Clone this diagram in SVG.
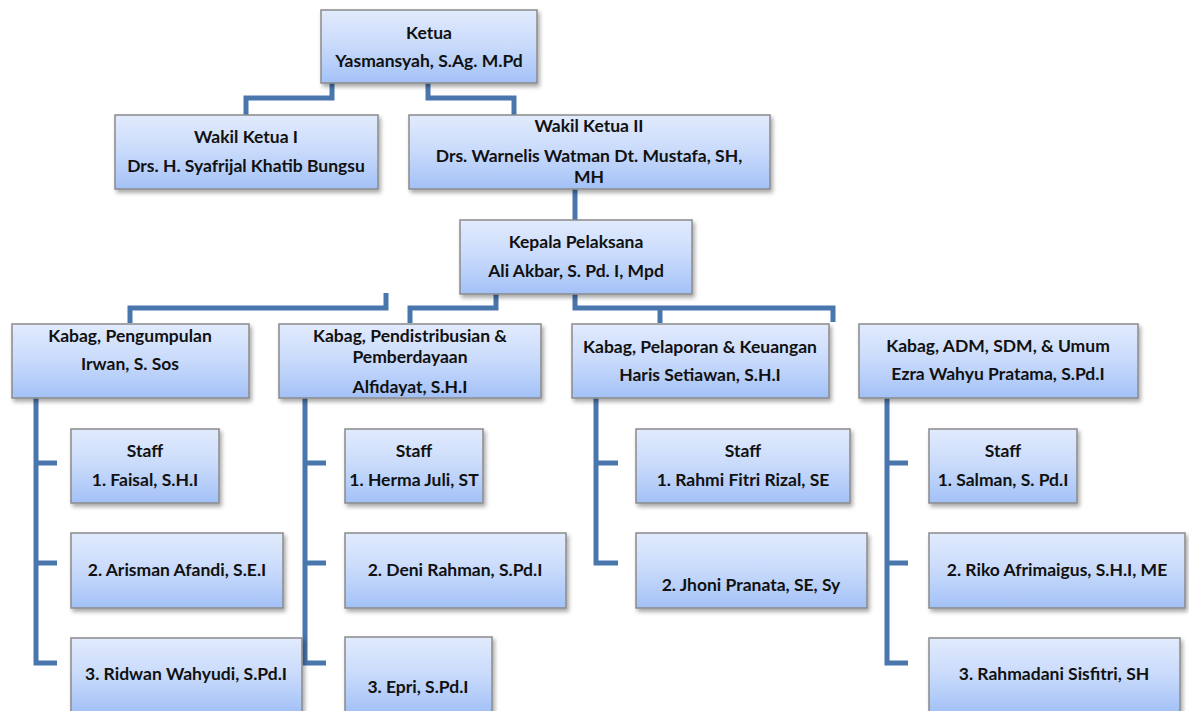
<svg xmlns="http://www.w3.org/2000/svg" width="1189" height="711" viewBox="0 0 1189 711">
<defs>
<linearGradient id="g" x1="0" y1="0" x2="0" y2="1">
<stop offset="0" stop-color="#e2ebfd"/>
<stop offset="0.5" stop-color="#c8dafb"/>
<stop offset="1" stop-color="#a3c1f7"/>
</linearGradient>
<filter id="sh" x="-10%" y="-10%" width="125%" height="140%">
<feDropShadow dx="2" dy="3" stdDeviation="2" flood-color="#000" flood-opacity="0.35"/>
</filter>
</defs>
<style>
.b{fill:url(#g);stroke:#8a8a8a;stroke-width:1.5;filter:url(#sh)}
.t{font-family:Lato,"Liberation Sans",sans-serif;font-weight:bold;font-size:17.5px;fill:#111;text-anchor:middle}
.c{fill:none;stroke:#4876ad;stroke-width:5;stroke-linejoin:miter;stroke-linecap:butt}
</style>
<rect width="1189" height="711" fill="#fff"/>
<g id="connectors" class="c">
<path d="M332,83 V98 H246 V115"/>
<path d="M428,83 V98 H514 V115"/>
<path d="M575,189 V220"/>
<path d="M496,294 V308 H410 V323"/>
<path d="M386,293 V308 H130 V323"/>
<path d="M575,294 V308 H833 V322"/>
<path d="M660,308 V323"/>
<path d="M36,398 V663 H57 M36,463 H57 M36,563 H57"/>
<path d="M305,398 V663 H326 M305,463 H326 M305,563 H326"/>
<path d="M596,398 V563 H618 M596,463 H618"/>
<path d="M887,398 V663 H908 M887,463 H908 M887,563 H908"/>
</g>
<g id="ketua"><rect class="b" x="321" y="10" width="216" height="73"/><text class="t" x="429" y="39">Ketua</text><text class="t" x="429" y="67">Yasmansyah, S.Ag. M.Pd</text></g>
<g id="wakil1"><rect class="b" x="115" y="115" width="263" height="74"/><text class="t" x="246" y="143">Wakil Ketua I</text><text class="t" x="246" y="172">Drs. H. Syafrijal Khatib Bungsu</text></g>
<g id="wakil2"><rect class="b" x="409" y="115" width="361" height="74"/><text class="t" x="589" y="132">Wakil Ketua II</text><text class="t" x="589" y="162">Drs. Warnelis Watman Dt. Mustafa, SH,</text><text class="t" x="589" y="183">MH</text></g>
<g id="kepala"><rect class="b" x="460" y="220" width="232" height="74"/><text class="t" x="576" y="248">Kepala Pelaksana</text><text class="t" x="576" y="277">Ali Akbar, S. Pd. I, Mpd</text></g>
<g id="kabag1"><rect class="b" x="12" y="324" width="237" height="74"/><text class="t" x="130" y="342">Kabag, Pengumpulan</text><text class="t" x="130" y="370">Irwan, S. Sos</text></g>
<g id="kabag2"><rect class="b" x="279" y="324" width="262" height="74"/><text class="t" x="410" y="342">Kabag, Pendistribusian &amp;</text><text class="t" x="410" y="363">Pemberdayaan</text><text class="t" x="410" y="393">Alfidayat, S.H.I</text></g>
<g id="kabag3"><rect class="b" x="572" y="324" width="257" height="74"/><text class="t" x="700" y="353">Kabag, Pelaporan &amp; Keuangan</text><text class="t" x="700" y="381">Haris Setiawan, S.H.I</text></g>
<g id="kabag4"><rect class="b" x="859" y="324" width="279" height="74"/><text class="t" x="998" y="352">Kabag, ADM, SDM, &amp; Umum</text><text class="t" x="998" y="380">Ezra Wahyu Pratama, S.Pd.I</text></g>
<g id="s1a"><rect class="b" x="71" y="429" width="148" height="74"/><text class="t" x="145" y="457">Staff</text><text class="t" x="145" y="486">1. Faisal, S.H.I</text></g>
<g id="s1b"><rect class="b" x="71" y="533" width="212" height="75"/><text class="t" x="177" y="576">2. Arisman Afandi, S.E.I</text></g>
<g id="s1c"><rect class="b" x="71" y="638" width="231" height="75"/><text class="t" x="186" y="680">3. Ridwan Wahyudi, S.Pd.I</text></g>
<g id="s2a"><rect class="b" x="345" y="429" width="138" height="74"/><text class="t" x="414" y="457">Staff</text><text class="t" x="414" y="486">1. Herma Juli, ST</text></g>
<g id="s2b"><rect class="b" x="345" y="533" width="221" height="75"/><text class="t" x="455" y="576">2. Deni Rahman, S.Pd.I</text></g>
<g id="s2c"><rect class="b" x="345" y="637" width="147" height="76"/><text class="t" x="418" y="693">3. Epri, S.Pd.I</text></g>
<g id="s3a"><rect class="b" x="636" y="429" width="214" height="74"/><text class="t" x="743" y="457">Staff</text><text class="t" x="743" y="486">1. Rahmi Fitri Rizal, SE</text></g>
<g id="s3b"><rect class="b" x="636" y="533" width="231" height="75"/><text class="t" x="751" y="591">2. Jhoni Pranata, SE, Sy</text></g>
<g id="s4a"><rect class="b" x="929" y="429" width="148" height="74"/><text class="t" x="1003" y="457">Staff</text><text class="t" x="1003" y="486">1. Salman, S. Pd.I</text></g>
<g id="s4b"><rect class="b" x="929" y="533" width="256" height="75"/><text class="t" x="1057" y="576">2. Riko Afrimaigus, S.H.I, ME</text></g>
<g id="s4c"><rect class="b" x="929" y="638" width="251" height="75"/><text class="t" x="1054" y="680">3. Rahmadani Sisfitri, SH</text></g>
</svg>
